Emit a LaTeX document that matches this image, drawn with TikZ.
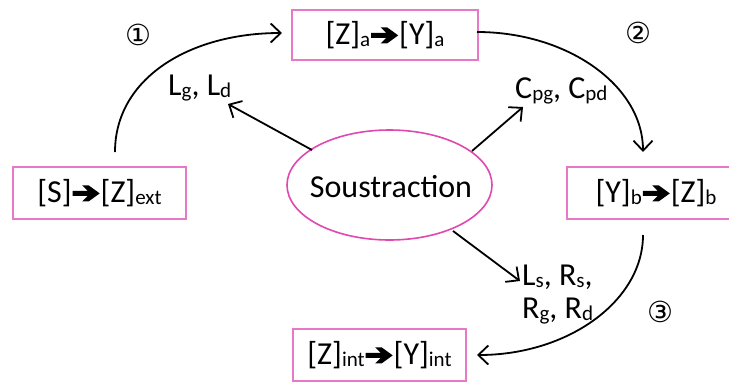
\documentclass[tikz,border=0pt]{standalone}
\usepackage{fontspec}
\setmainfont{Carlito}
\newfontfamily\djv{DejaVu Sans}
\usetikzlibrary{arrows.meta,shapes.geometric}
\definecolor{boxpink}{RGB}{232,120,200}
\definecolor{ellpink}{RGB}{224,72,176}
\newcommand{\sbx}[1]{\raisebox{-2.5pt}{\fontsize{21}{21}\selectfont #1}}
\newcommand{\rarr}{\hspace{1pt}\tikz[x=1pt,y=1pt,baseline=0pt]{\fill[black] (0,6.5) -- (15,6.5) -- (9.5,1) -- (16,1) -- (27,9) -- (16,17) -- (9.5,17) -- (15,11.5) -- (0,11.5) -- cycle;}\hspace{1pt}}
\newcommand{\circnum}[1]{{\djv\fontsize{29}{29}\selectfont #1}}
\begin{document}
\begin{tikzpicture}[x=1pt,y=-1pt,
  every node/.style={font=\fontsize{32}{38}\selectfont, inner sep=0pt},
  box/.style={draw=boxpink, line width=1.5pt, fill=white},
  ell/.style={ellipse, draw=ellpink, line width=1.6pt, fill=white},
  arr/.style={line width=1.8pt, -{Straight Barb[length=10pt,width=19pt,line width=1.8pt]}},
  lbl/.style={anchor=base west}]
\useasboundingbox (0,0) rectangle (729,381);
\fill[white] (0,0) rectangle (729,381);
% boxes
\node[box, minimum width=186pt, minimum height=50pt] (za) at (385,35) {[Z]\sbx{a}\rarr[Y]\sbx{a}};
\node[box, minimum width=173pt, minimum height=52pt] (sz) at (99.5,193) {[S]\rarr[Z]\sbx{ext}};
\node[box, minimum width=178pt, minimum height=52pt] (yb) at (656,193) {[Y]\sbx{b}\rarr[Z]\sbx{b}};
\node[box, minimum width=173pt, minimum height=52pt] (zi) at (379.5,355) {[Z]\sbx{int}\rarr[Y]\sbx{int}};
\node[ell, minimum width=205pt, minimum height=110pt] (so) at (389.5,185) {};
\node at (391,187) (st) {Soustraction};
% labels
\node[lbl] (l1) at (168,95) {L\sbx{g}, L\sbx{d}};
\node[lbl] (l2) at (515,98) {C\sbx{pg}, C\sbx{pd}};
\node[lbl] (l3) at (522,285) {L\sbx{s}, R\sbx{s},};
\node[lbl] (l4) at (522,318) {R\sbx{g}, R\sbx{d}};
\node (n1) at (138,35) {\circnum{①}};
\node (n2) at (638,33) {\circnum{②}};
\node (n3) at (660,312) {\circnum{③}};
% curve endpoints
\coordinate (c1s) at (115,152);
\coordinate (c1e) at (282,33);
\coordinate (c2s) at (477,32);
\coordinate (c2e) at (643,152);
\coordinate (c3s) at (643,235);
\coordinate (c3e) at (477,355);
\draw[arr] (c1s) .. controls (115,78) and (190,33) .. (c1e);
\draw[arr] (c2s) .. controls (568,32) and (643,86) .. (c2e);
\draw[arr] (c3s) .. controls (643,301) and (568,355) .. (c3e);
% straight arrows
\coordinate (a1s) at (312,150);
\coordinate (a1e) at (228,104);
\coordinate (a2s) at (472,151);
\coordinate (a2e) at (523,107);
\coordinate (a3s) at (453,231);
\coordinate (a3e) at (520,281);
\draw[arr] (a1s) -- (a1e);
\draw[arr] (a2s) -- (a2e);
\draw[arr] (a3s) -- (a3e);
\end{tikzpicture}
\end{document}
